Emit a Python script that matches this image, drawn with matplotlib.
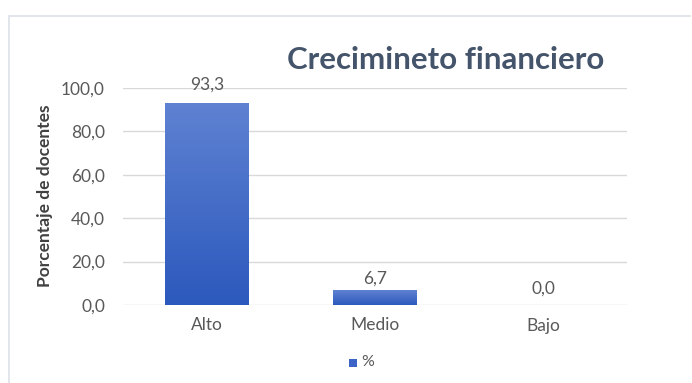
import matplotlib
matplotlib.use("Agg")
import matplotlib.pyplot as plt
import numpy as np
from matplotlib.patches import Rectangle
from matplotlib.lines import Line2D
from matplotlib.colors import LinearSegmentedColormap

categories = ["Alto", "Medio", "Bajo"]
values = [93.3, 6.7, 0.0]
value_labels = ["93,3", "6,7", "0,0"]
yticks = [0, 20, 40, 60, 80, 100]
ytick_labels = ["0,0", "20,0", "40,0", "60,0", "80,0", "100,0"]
series_name = "%"
title = "Crecimineto financiero"
ylabel = "Porcentaje de docentes"

# label offsets (points) — styling only
label_offsets = [7, 3, 6]

plt.rcParams['font.family'] = ['Lato', 'DejaVu Sans']

W, H = 692, 383
fig = plt.figure(figsize=(W/100, H/100), dpi=100)
fig.patch.set_facecolor("white")

border_col = "#dfe3ea"
fig.lines.append(Line2D([9/W, 690/W], [1 - 16/H, 1 - 16/H], transform=fig.transFigure,
                        color=border_col, linewidth=1.3))
fig.lines.append(Line2D([9/W, 9/W], [0, 1 - 16/H], transform=fig.transFigure,
                        color=border_col, linewidth=1.3))

ax = fig.add_axes([123/W, 1 - 305/H, (627-123)/W, (305-88)/H])
x = np.arange(len(categories))
bars = ax.bar(x, values, width=0.5, color="#3b64c6", zorder=3)

grad = np.linspace(0, 1, 256).reshape(-1, 1)
cmap = LinearSegmentedColormap.from_list("g", ["#2c59bd", "#5f82d2"])
for b in bars:
    h = b.get_height()
    if h <= 0:
        continue
    x0 = b.get_x(); w = b.get_width()
    im = ax.imshow(grad, extent=[x0, x0 + w, 0, h], origin="lower", cmap=cmap,
                   aspect="auto", zorder=4)
    im.set_clip_path(b)

ax.set_xlim(-0.5, 2.5)
ax.set_ylim(0, 100)
ax.set_yticks(yticks)
ax.set_yticklabels(ytick_labels)
ax.set_xticks(x)
ax.set_xticklabels(categories)
ax.tick_params(axis="both", length=0, colors="#595959", labelsize=12.5)
ax.tick_params(axis="y", pad=13)
ax.tick_params(axis="x", pad=9)
for s in ax.spines.values():
    s.set_visible(False)
ax.grid(axis="y", color="#d9d9d9", linewidth=1, zorder=0)
ax.set_axisbelow(True)

for xi, v, lab, off in zip(x, values, value_labels, label_offsets):
    ax.annotate(lab, (xi, v), xytext=(0, off), textcoords="offset points",
                ha="center", va="bottom", color="#595959", fontsize=12.5,
                annotation_clip=False)

fig.text(446/W, 1 - 60/H, title, ha="center", va="center", fontsize=22.5,
         fontweight="bold", color="#44546a")
fig.text(45/W, 1 - 196/H, ylabel, ha="center", va="center", rotation=90,
         fontsize=12.5, fontweight="bold", color="#404040")

fig.patches.append(Rectangle((349/W, 1 - 367/H), 8/W, 8/H, transform=fig.transFigure,
                             facecolor="#3b64c6", edgecolor="none"))
fig.text(361/W, 1 - 362/H, series_name, ha="left", va="center", fontsize=11.5,
         color="#595959")

fig.savefig("out.png", dpi=100, facecolor="white")
